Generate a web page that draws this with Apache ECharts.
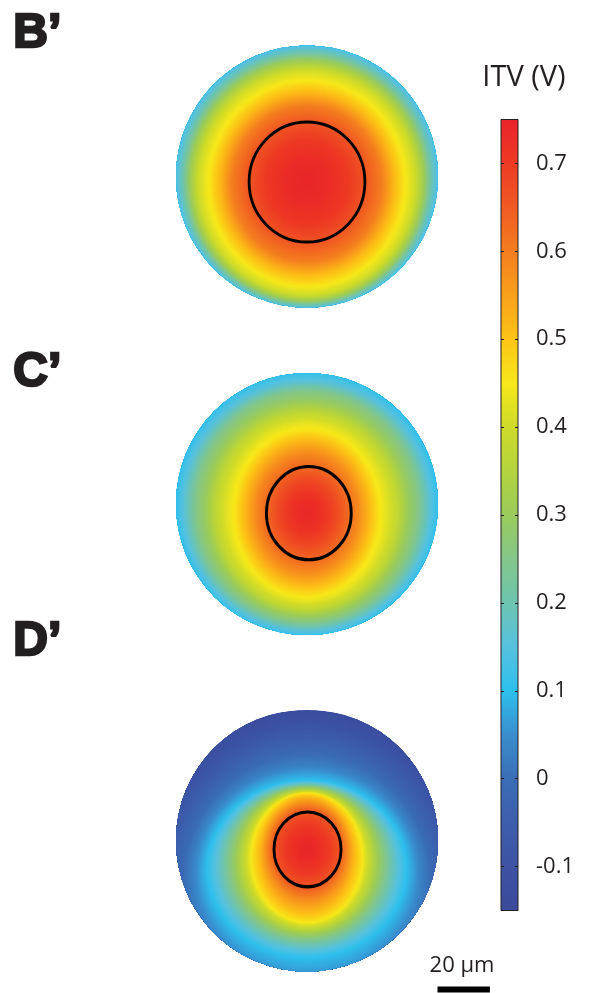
<!DOCTYPE html>
<html><head><meta charset="utf-8">
<script src="https://cdn.jsdelivr.net/npm/echarts@6/dist/echarts.min.js"></script>
<style>html,body{margin:0;padding:0;background:#fff}#c{width:589px;height:993px}</style>
</head><body><div id="c"></div>
<script>
// ================= DATA =================
const panelLabels = ['B’', 'C’', 'D’'];
const colorbarTitle = 'ITV (V)';
const scaleBarLabel = '20 µm';
const scaleBarUm = 20;
const cellRadiusUm = 50;

// colour bar range & ticks (V)
const cbMin = -0.15, cbMax = 0.75;
const cbTickValues = [-0.1, 0, 0.1, 0.2, 0.3, 0.4, 0.5, 0.6, 0.7];
// colour map
const cmapValues = [-0.15, -0.10, -0.05, 0.00, 0.05, 0.10, 0.15, 0.20, 0.25, 0.30, 0.35, 0.40, 0.45, 0.50, 0.55, 0.60, 0.65, 0.70, 0.75];
const cmapColors = ['#3b4a9b', '#3d52a3', '#3d5eac', '#3b6db6', '#3a8dcf', '#2ec0ed', '#56c1df', '#6dc4b0', '#84c68a', '#9acb5c', '#b4d33e', '#cedb2a', '#f7e81a', '#fcc416', '#f9a01b', '#f47d20', '#f05a23', '#ed3a24', '#e9232a'];

// Iso-potential contours, outer -> inner: value (V), semi-axes (µm), centre y (µm, up +)
const bContourValues = [0.05, 0.13, 0.20, 0.30, 0.40, 0.46, 0.52, 0.60, 0.66, 0.70, 0.73, 0.745];
const bContourRx     = [61.1, 50.4, 47.7, 45.0, 41.6, 37.0, 33.2, 28.6, 22.1, 16.0, 8.4, 0];
const bContourRy     = [61.1, 50.4, 48.5, 46.2, 43.1, 38.9, 34.7, 29.8, 22.9, 16.8, 8.8, 0];
const bContourY      = [0, 0, -0.8, -1.5, -2.3, -2.7, -2.7, -2.7, -2.3, -2.3, -2.3, -2.3];

const cContourValues = [0.05, 0.10, 0.17, 0.25, 0.30, 0.38, 0.43, 0.46, 0.52, 0.58, 0.63, 0.68, 0.72, 0.74];
const cContourRx     = [57.3, 50.4, 46.6, 42.7, 38.9, 34.4, 30.2, 27.5, 23.7, 19.8, 15.6, 10.7, 5.3, 0];
const cContourRy     = [57.3, 50.8, 47.3, 44.3, 41.2, 37.4, 34.0, 31.7, 27.5, 22.9, 17.9, 12.2, 6.1, 0];
const cContourY      = [0, 0, -0.8, -1.1, -1.9, -2.7, -3.1, -3.4, -3.4, -3.4, -3.4, -3.4, -3.4, -3.4];

const dContourValues = [-0.13, -0.09, -0.03, 0.03, 0.10, 0.20, 0.30, 0.38, 0.46, 0.52, 0.58, 0.63, 0.66, 0.70, 0.73, 0.745];
const dContourRx     = [66.8, 59.2, 50.4, 43.9, 38.2, 32.4, 27.5, 24.0, 21.0, 17.9, 15.6, 13.7, 12.8, 8.4, 4.2, 0];
const dContourRy     = [76.3, 66.8, 53.4, 42.0, 34.0, 30.7, 28.1, 26.3, 24.6, 21.9, 18.5, 16.0, 14.3, 9.5, 4.6, 0];
const dContourY      = [-26.5, -22.7, -17.0, -13.2, -10.9, -9.2, -8.0, -7.3, -6.5, -5.3, -4.2, -3.6, -3.4, -3.4, -3.4, -3.4];

// Nucleus outlines: [centre x, centre y, rx, ry] (µm)
const bNucleus = [0, -2.1, 22.1, 22.9];
const cNucleus = [0.7, -3.5, 16.2, 17.8];
const dNucleus = [0.2, -3.4, 12.8, 14.3];

// ================= RENDERING =================
const PX_PER_UM = 2.62;
const panelCenters = [[307, 176.5], [307, 504], [307, 840.5]];
const half = cellRadiusUm * PX_PER_UM;

function hexToRgb(h) { return [parseInt(h.slice(1,3),16), parseInt(h.slice(3,5),16), parseInt(h.slice(5,7),16)]; }
const cmapRgb = cmapColors.map(hexToRgb);
function cmap(v) {
  if (v <= cmapValues[0]) return cmapColors[0];
  const n = cmapValues.length;
  if (v >= cmapValues[n-1]) return cmapColors[n-1];
  let i = 0;
  while (v > cmapValues[i+1]) i++;
  const t = (v - cmapValues[i]) / (cmapValues[i+1] - cmapValues[i]);
  const a = cmapRgb[i], b = cmapRgb[i+1];
  return 'rgb(' + [0,1,2].map(k => Math.round(a[k] + (b[k]-a[k])*t)).join(',') + ')';
}

const panels = [
  {vals: bContourValues, rx: bContourRx, ry: bContourRy, cy: bContourY, nuc: bNucleus},
  {vals: cContourValues, rx: cContourRx, ry: cContourRy, cy: cContourY, nuc: cNucleus},
  {vals: dContourValues, rx: dContourRx, ry: dContourRy, cy: dContourY, nuc: dNucleus}
];

const grids = panelCenters.map(c => ({left: c[0]-half, top: c[1]-half, width: 2*half, height: 2*half}));
grids.push({left: 501, top: 119.5, width: 17, height: 791});               // colour bar
grids.push({left: 437.5, top: 986.5, width: scaleBarUm*PX_PER_UM, height: 6}); // scale bar

const xAxes = [], yAxes = [];
for (let i = 0; i < 3; i++) {
  xAxes.push({gridIndex: i, type: 'value', min: -cellRadiusUm, max: cellRadiusUm, show: false});
  yAxes.push({gridIndex: i, type: 'value', min: -cellRadiusUm, max: cellRadiusUm, show: false});
}
xAxes.push({gridIndex: 3, type: 'value', min: 0, max: 1, show: false});
const fmt = v => (Math.abs(v) < 1e-9 ? '0' : (Math.round(v*10)/10).toFixed(1));
yAxes.push({gridIndex: 3, type: 'value', position: 'left', min: cbMin, max: cbMax, z: 10,
  axisLine: {show: false}, splitLine: {show: false},
  axisTick: {show: true, inside: true, length: 3, lineStyle: {color: '#231f20', width: 1}, customValues: cbTickValues},
  axisLabel: {show: false, customValues: cbTickValues}});
yAxes.push({gridIndex: 3, type: 'value', position: 'right', min: cbMin, max: cbMax, z: 10,
  axisLine: {show: false}, splitLine: {show: false},
  axisTick: {show: true, inside: true, length: 3, lineStyle: {color: '#231f20', width: 1}, customValues: cbTickValues},
  axisLabel: {show: true, customValues: cbTickValues, margin: 18, formatter: fmt,
    fontFamily: 'Open Sans', fontSize: 22, color: '#231f20'}});
xAxes.push({gridIndex: 4, type: 'value', min: 0, max: scaleBarUm, show: false});
yAxes.push({gridIndex: 4, type: 'value', min: 0, max: 1, show: false});

const series = [];
panels.forEach((p, pi) => {
  const last = p.vals.length - 1;
  const data = p.vals.slice(0, last).map((v, i) =>
    [0, p.cy[i], p.rx[i], p.ry[i], v, p.cy[i+1], p.rx[i+1], p.ry[i+1], p.vals[i+1]]);
  series.push({
    type: 'custom', xAxisIndex: pi, yAxisIndex: pi, clip: false, silent: true, z: 2,
    data: data,
    renderItem: function (params, api) {
      // draw the band between this contour and the next inner one as a fine
      // sequence of ellipses blended from the outer to the inner contour
      const cO = api.coord([0, api.value(1)]);
      const sO = api.size([api.value(2), api.value(3)]);
      const cI = api.coord([0, api.value(5)]);
      const sI = api.size([api.value(6), api.value(7)]);
      const vO = api.value(4), vI = api.value(8);
      const span = Math.max(Math.abs(sO[0]-sI[0]), Math.abs(sO[1]-sI[1]), Math.abs(cO[1]-cI[1]));
      const m = Math.max(3, Math.min(60, Math.ceil(span / 0.8)));
      const children = [];
      for (let j = 0; j < m; j++) {
        const t = j / m;
        const rx = sO[0] + (sI[0]-sO[0]) * t;
        const ry = sO[1] + (sI[1]-sO[1]) * t;
        const cy = cO[1] + (cI[1]-cO[1]) * t;
        if (rx <= 0.05) continue;
        children.push({
          type: 'circle', x: cO[0], y: cy, scaleX: 1, scaleY: ry / rx,
          shape: {cx: 0, cy: 0, r: rx},
          style: {fill: cmap(vO + (vI - vO) * t)}
        });
      }
      const cc = api.coord([0, 0]);
      const R = api.size([cellRadiusUm, 0])[0];
      return {
        type: 'group',
        clipPath: {type: 'circle', shape: {cx: cc[0], cy: cc[1], r: R}},
        children: children
      };
    }
  });
  series.push({
    type: 'custom', xAxisIndex: pi, yAxisIndex: pi, clip: false, silent: true, z: 3,
    data: [p.nuc],
    renderItem: function (params, api) {
      const c = api.coord([api.value(0), api.value(1)]);
      const sz = api.size([api.value(2), api.value(3)]);
      return {
        type: 'circle', x: c[0], y: c[1], scaleX: 1, scaleY: sz[1] / sz[0],
        shape: {cx: 0, cy: 0, r: sz[0]},
        style: {fill: null, stroke: '#000', lineWidth: 2.8, strokeNoScale: true}
      };
    }
  });
});

// colour bar
series.push({
  type: 'custom', xAxisIndex: 3, yAxisIndex: 3, clip: false, silent: true, z: 2,
  data: [[0, cbMin, 1, cbMax]],
  renderItem: function (params, api) {
    const p0 = api.coord([api.value(0), api.value(1)]);
    const p1 = api.coord([api.value(2), api.value(3)]);
    return {
      type: 'rect',
      shape: {x: p0[0], y: p1[1], width: p1[0] - p0[0], height: p0[1] - p1[1]},
      style: {
        fill: {type: 'linear', x: 0, y: 1, x2: 0, y2: 0,
          colorStops: cmapValues.map((v, i) => ({offset: (v - cbMin) / (cbMax - cbMin), color: cmapColors[i]}))},
        stroke: '#231f20', lineWidth: 1
      }
    };
  }
});

// scale bar
series.push({
  type: 'custom', xAxisIndex: 4, yAxisIndex: 5, clip: false, silent: true,
  data: [[0, 0, scaleBarUm, 1]],
  renderItem: function (params, api) {
    const p0 = api.coord([api.value(0), api.value(1)]);
    const p1 = api.coord([api.value(2), api.value(3)]);
    return {type: 'rect', shape: {x: p0[0], y: p1[1], width: p1[0] - p0[0], height: p0[1] - p1[1]}, style: {fill: '#000'}};
  }
});

const labelYs = [33, 372, 641];
const graphic = panelLabels.map((t, i) => ({
  type: 'text', left: 12, top: labelYs[i] - 24,
  style: {text: t, font: 'bold 48px "Liberation Sans", Arial, sans-serif', fill: '#231f20',
    stroke: '#231f20', lineWidth: 2.5}
}));
graphic.push({type: 'text', x: 524, y: 78, style: {text: colorbarTitle, fontFamily: 'Open Sans', fontSize: 29,
  fill: '#231f20', textAlign: 'center', textVerticalAlign: 'middle'}});
graphic.push({type: 'text', x: 462, y: 966, style: {text: scaleBarLabel, fontFamily: 'Open Sans', fontSize: 22,
  fill: '#231f20', textAlign: 'center', textVerticalAlign: 'middle'}});

const chart = echarts.init(document.getElementById('c'), null, {renderer: 'canvas', width: 589, height: 993});
chart.setOption({
  animation: false,
  backgroundColor: '#ffffff',
  grid: grids,
  xAxis: xAxes,
  yAxis: yAxes,
  series: series,
  graphic: graphic
});
</script>
</body></html>
